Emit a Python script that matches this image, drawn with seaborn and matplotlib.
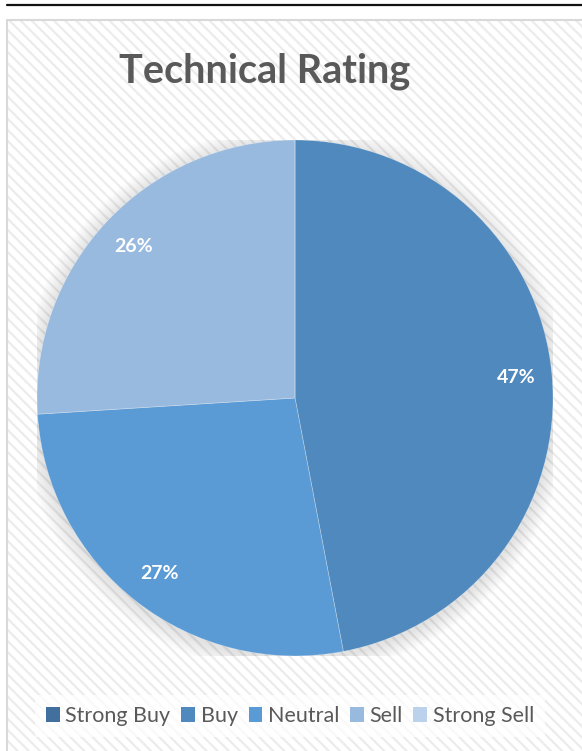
import matplotlib
matplotlib.use("Agg")
import matplotlib.pyplot as plt
from matplotlib.patches import Rectangle, Circle, Patch
from matplotlib.lines import Line2D
import seaborn as sns

# Rating categories and their shares (%)
categories = ["Strong Buy", "Buy", "Neutral", "Sell", "Strong Sell"]
shares = [0, 47, 27, 26, 0]
colors = ["#41709f", "#4f89bd", "#5b9bd5", "#99badf", "#bcd2ec"]
title = "Technical Rating"

sns.set_theme(style="white")
plt.rcParams["font.family"] = ["Lato", "DejaVu Sans"]
plt.rcParams["hatch.linewidth"] = 1.6

W, H = 582, 751
fig = plt.figure(figsize=(W / 100, H / 100), dpi=100)
fig.patch.set_facecolor("white")


def fx(px):
    return px / W


def fy(py):
    return 1 - py / H


# hatched chart area background
bg = Rectangle((fx(7), fy(H + 10)), fx(W + 20) - fx(7), fy(20) - fy(H + 10),
               transform=fig.transFigure, facecolor="white", edgecolor="#ececec",
               hatch="\\\\\\", linewidth=0, zorder=-3)
fig.patches.append(bg)
border = Rectangle((fx(7), fy(H + 10)), fx(W + 20) - fx(7), fy(20) - fy(H + 10),
                   transform=fig.transFigure, facecolor="none", edgecolor="#d9d9d9",
                   linewidth=1.5, zorder=-2)
fig.patches.append(border)
fig.lines.append(Line2D([fx(7), 1], [fy(5), fy(5)], transform=fig.transFigure,
                        color="#111111", linewidth=1.6, zorder=-2))

# pie
cx, cy, r = 295, 398, 258
ax = fig.add_axes([fx(cx - r), fy(cy + r), fx(2 * r), (2 * r) / H])
ax.set_zorder(2)
ax.patch.set_visible(False)
ax.axis("off")

# soft drop shadow around the pie
for i in range(14):
    ax.add_patch(Circle((0, -0.01), 1.0 + 0.005 * (i + 1), facecolor="#000000",
                        alpha=0.008, edgecolor="none", zorder=0))

ax.pie(shares, colors=colors, startangle=90, counterclock=False, radius=1,
       autopct=lambda p: f"{p:.0f}%" if p > 0.5 else "", pctdistance=0.86,
       wedgeprops=dict(edgecolor=(1, 1, 1, 0.35), linewidth=0.5),
       textprops=dict(color="white", fontsize=14, fontweight="bold"))
ax.set_xlim(-1, 1)
ax.set_ylim(-1, 1)
ax.set_aspect("equal")

fig.text(fx(264.5), fy(83), title, ha="center", va="baseline",
         fontsize=28.5, fontweight="bold", color="#595959")

handles = [Patch(facecolor=c, edgecolor="none") for c in colors]
leg = fig.legend(handles, categories, loc="center", ncol=5,
                 bbox_to_anchor=(fx(290), fy(716)), frameon=True,
                 fontsize=15.5, handlelength=0.65, handleheight=0.65,
                 handletextpad=0.25, columnspacing=0.5, borderpad=0.5,
                 labelcolor="#595959")
leg.get_frame().set_facecolor("white")
leg.get_frame().set_alpha(0.7)
leg.get_frame().set_edgecolor("none")
leg.get_frame().set_boxstyle("square", pad=0)

fig.savefig("out.png", dpi=100)
